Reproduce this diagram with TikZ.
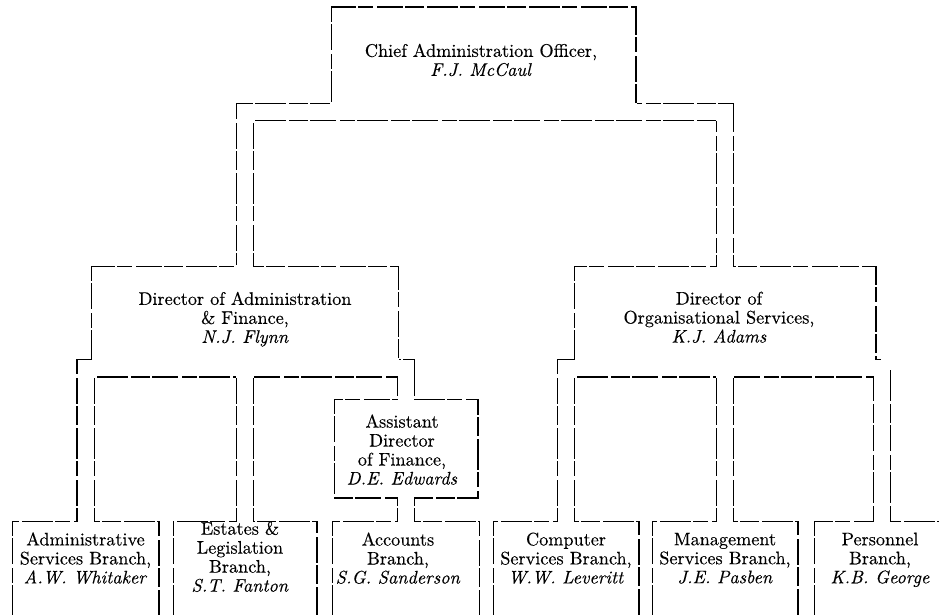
\documentclass[tikz,border=0pt]{standalone}
\usepackage{fontspec}
\setmainfont{lmroman10-regular.otf}[ItalicFont=lmroman10-italic.otf,FakeBold=0.3]
\begin{document}
\begin{tikzpicture}[x=1pt,y=-1pt,
    box/.style={inner sep=0pt,minimum width=#1},
    tag/.style={align=center,inner sep=0pt,font=\fontsize{18.2}{19}\selectfont},
    wall/.style={line width=18.6},
    hollow/.style={line width=16,white},
    gap/.style={white,dash pattern=on 3 off 19 on 2 off 26 on 4 off 15 on 2 off 31,dash phase=8},
    wallgap/.style={wall,gap}]
    \useasboundingbox(0,0)rectangle(939,615);
    \clip(0,0)rectangle(939,615);

    \node[box=303,minimum height=97](cao)at(483.5,56.5){};
    \node[box=305,minimum height=94](dira)at(245,314){};
    \node[box=300,minimum height=94](diro)at(725,314){};
    \node[box=142,minimum height=97](adf)at(406,448.5){};
    \node[box=145,minimum height=110](asb)at(85.5,577){};
    \node[box=142,minimum height=110](elb)at(245,577){};
    \node[box=145,minimum height=110](acb)at(406,577){};
    \node[box=144,minimum height=110](csb)at(566,577){};
    \node[box=144,minimum height=110](msb)at(725,577){};
    \node[box=134,minimum height=110](pb)at(882,577){};

    \foreach\n in{cao,dira,diro,adf,asb,elb,acb,csb,msb,pb}\draw[line width=2.6](\n.north west)rectangle(\n.south east);
    \foreach\s in{wall,hollow,wallgap}{
        \draw[\s](dira.north)|-([yshift=-7]cao.south)-|(diro.north);
        \draw[\s](asb.north)|-([yshift=-7]dira.south)-|(adf.north);
        \draw[\s](elb.north)--(elb.north|-dira.south);
        \draw[\s](acb.north)--(acb.north|-adf.south);
        \draw[\s](csb.north)|-([yshift=-7]diro.south)-|(pb.north);
        \draw[\s](msb.north)--(msb.north|-diro.south);
    }
    \foreach\n in{cao,dira,diro,adf,asb,elb,acb,csb,msb,pb}{
        \fill[white](\n.north west)rectangle(\n.south east);
        \draw[gap,line width=2.8](\n.north west)rectangle(\n.south east);
    }

    \node[tag](caot)at([xshift=-2.5,yshift=-3.5]cao.center){Chief Administration Officer,\\\textit{F.J. McCaul}};
    \node[tag](dirat)at([yshift=-5.2]dira.center){Director of Administration\\\& Finance,\\\textit{N.J. Flynn}};
    \node[tag](dirot)at([xshift=-6,yshift=-3.3]diro.center){Director of\\Organisational Services,\\\textit{K.J. Adams}};
    \node[tag](adft)at([xshift=-4,yshift=-1.1]adf.center){Assistant\\Director\\of Finance,\\\textit{D.E. Edwards}};
    \node[tag](asbt)at([yshift=-36.3]asb.north){Administrative\\Services Branch,\\\textit{A.W. Whitaker}};
    \node[tag](elbt)at([xshift=-5,yshift=-35]elb.north){Estates \&\\Legislation\\Branch,\\\textit{S.T. Fanton}};
    \node[tag](acbt)at([xshift=-8,yshift=-36.4]acb.north){Accounts\\Branch,\\\textit{S.G. Sanderson}};
    \node[tag](csbt)at([yshift=-36.4]csb.north){Computer\\Services Branch,\\\textit{W.W. Leveritt}};
    \node[tag](msbt)at([yshift=-36.4]msb.north){Management\\Services Branch,\\\textit{J.E. Pasben}};
    \node[tag](pbt)at([xshift=-2,yshift=-38]pb.north){Personnel\\Branch,\\\textit{K.B. George}};
\end{tikzpicture}
\end{document}
